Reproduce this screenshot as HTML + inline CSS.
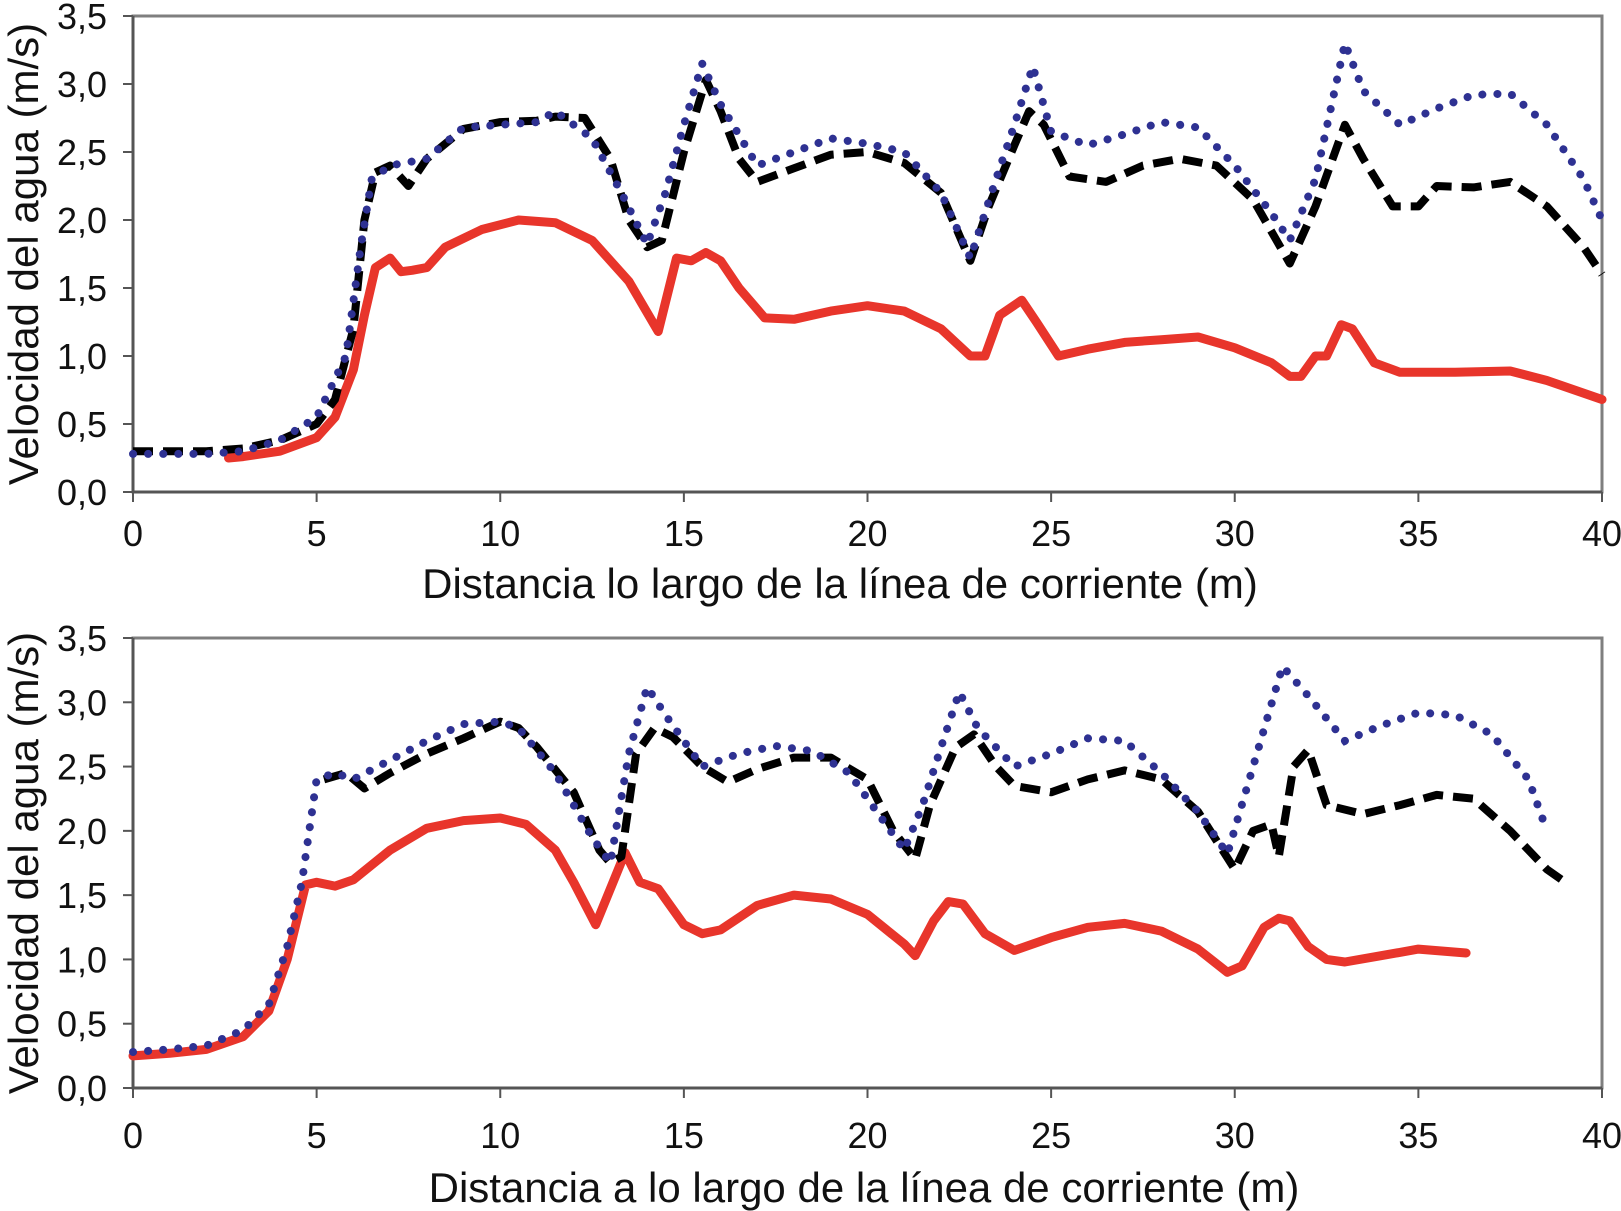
<!DOCTYPE html>
<html><head><meta charset="utf-8"><style>
html,body{margin:0;padding:0;background:#fff;}
svg{display:block;font-family:"Liberation Sans",Arial,sans-serif;}
</style></head><body>
<svg id="chart" width="1621" height="1211" viewBox="0 0 1621 1211"></svg>
<script>
const xTicks=[0,5,10,15,20,25,30,35,40];
const yTicks=[0,0.5,1,1.5,2,2.5,3,3.5];
const yTickLabels=["0,0","0,5","1,0","1,5","2,0","2,5","3,0","3,5"];
const xTitles=["Distancia lo largo de la línea de corriente (m)","Distancia a lo largo de la línea de corriente (m)"];
const yTitle="Velocidad del agua (m/s)";
// Top chart
const topRedX=[2.6,3,4,5,5.5,6,6.3,6.6,7,7.3,7.6,8,8.5,9.5,10.5,11.5,12.5,13.5,14.3,14.8,15.2,15.6,16,16.5,17.2,18,19,20,21,22,22.8,23.2,23.6,24.2,24.6,25.2,26,27,28,29,30,31,31.5,31.8,32.2,32.5,32.9,33.2,33.8,34.5,36,37.5,38.5,40];
const topRedY=[0.25,0.26,0.3,0.4,0.55,0.9,1.3,1.65,1.72,1.62,1.63,1.65,1.8,1.93,2.0,1.98,1.85,1.55,1.18,1.72,1.7,1.76,1.7,1.5,1.28,1.27,1.33,1.37,1.33,1.2,1.0,1.0,1.3,1.41,1.25,1.0,1.05,1.1,1.12,1.14,1.06,0.95,0.85,0.85,1.0,1.0,1.23,1.2,0.95,0.88,0.88,0.89,0.82,0.68];
const topBlackX=[0,2,3,4,5,5.5,6,6.3,6.6,7,7.5,8,9,10,11,11.5,12.3,13,13.5,14,14.4,15,15.6,16,16.5,17,18,19,20,21,22,22.8,23.3,24,24.4,24.8,25.5,26.5,27.5,28.5,29.5,30.5,31.5,32.2,33,33.5,34.3,35,35.5,36.5,37.5,38.5,39.5,40];
const topBlackY=[0.3,0.3,0.32,0.38,0.5,0.68,1.2,2.0,2.35,2.4,2.25,2.45,2.67,2.72,2.73,2.76,2.75,2.45,2.0,1.8,1.85,2.5,3.03,2.8,2.45,2.28,2.38,2.48,2.5,2.42,2.2,1.7,2.1,2.55,2.8,2.7,2.32,2.28,2.4,2.45,2.4,2.15,1.68,2.1,2.7,2.45,2.1,2.1,2.25,2.24,2.28,2.1,1.8,1.6];
const topBlueX=[0,2,3,4,5,5.8,6.2,6.5,7,8,9,10,11,11.5,12.5,13.3,14,14.5,15,15.5,16,17,18,19,20,21,22,22.8,23.5,24,24.5,25,26,27,28,29,30,31,31.5,32.2,33,33.5,34.5,35.5,36.5,37.5,38.5,39.5,40];
const topBlueY=[0.28,0.28,0.3,0.38,0.55,1.0,1.8,2.3,2.4,2.45,2.68,2.7,2.72,2.8,2.6,2.2,1.82,2.2,2.7,3.15,2.85,2.4,2.5,2.6,2.56,2.5,2.2,1.72,2.3,2.7,3.13,2.65,2.55,2.63,2.72,2.68,2.4,2.05,1.85,2.3,3.3,2.95,2.7,2.82,2.92,2.93,2.7,2.3,2.0];
// Bottom chart
const botRedX=[0,1,2,3,3.7,4.2,4.7,5,5.5,6,7,8,9,10,10.7,11.5,12,12.6,13,13.4,13.8,14.3,15,15.5,16,17,18,19,20,21,21.3,21.8,22.2,22.6,23.2,24,25,26,27,28,29,29.8,30.2,30.8,31.2,31.5,32,32.5,33,34,35,36.3];
const botRedY=[0.25,0.27,0.3,0.4,0.6,1.0,1.58,1.6,1.57,1.62,1.85,2.02,2.08,2.1,2.05,1.85,1.6,1.27,1.55,1.83,1.6,1.55,1.27,1.2,1.23,1.42,1.5,1.47,1.35,1.12,1.03,1.3,1.45,1.43,1.2,1.07,1.17,1.25,1.28,1.22,1.08,0.9,0.95,1.25,1.32,1.3,1.1,1.0,0.98,1.03,1.08,1.05];
const botBlackX=[5.2,5.8,6.3,7,8,9,10,10.5,11,12,12.7,13,13.3,13.7,14.2,14.7,15.5,16.2,17,18,19,20,20.7,21.3,21.7,22.4,22.9,23.5,24,25,26,27,28,29,30,30.5,31,31.2,31.6,32,32.5,33.5,34.5,35.5,36.5,37.5,38.5,39];
const botBlackY=[2.4,2.45,2.33,2.45,2.6,2.72,2.85,2.8,2.65,2.3,1.85,1.75,1.8,2.6,2.8,2.73,2.5,2.38,2.48,2.57,2.57,2.4,2.0,1.78,2.2,2.65,2.75,2.5,2.35,2.3,2.4,2.47,2.4,2.15,1.7,2.0,2.05,1.8,2.5,2.63,2.2,2.13,2.2,2.28,2.25,2.0,1.7,1.6];
const botBlueX=[0,1,2,3,3.7,4.2,4.6,5,5.5,6,7,8,9,10,10.5,11.5,12.5,13,13.5,14,14.5,15.5,16.5,17.5,18.5,19.5,20.5,21,21.5,22,22.5,23,24,25,26,27,28,29,29.8,30.5,31.3,32,33,34,35,36,37,38,38.5];
const botBlueY=[0.28,0.3,0.33,0.45,0.65,1.1,1.6,2.4,2.45,2.4,2.55,2.7,2.83,2.85,2.8,2.45,1.95,1.75,2.6,3.12,2.9,2.5,2.6,2.66,2.62,2.45,2.05,1.85,2.2,2.65,3.08,2.8,2.5,2.6,2.72,2.7,2.45,2.15,1.82,2.5,3.28,3.05,2.7,2.82,2.92,2.9,2.75,2.4,2.0];

const NS="http://www.w3.org/2000/svg";
const svg=document.getElementById('chart');
function mk(tag,attrs,parent){const e=document.createElementNS(NS,tag);for(const k in attrs)e.setAttribute(k,attrs[k]);(parent||svg).appendChild(e);return e;}
const panels=[
 {top:16,bot:492,tl:546,xt:598,tx:840,ser:[[topRedX,topRedY],[topBlackX,topBlackY],[topBlueX,topBlueY]],name:'top'},
 {top:638,bot:1088,tl:1148,xt:1202,tx:864,ser:[[botRedX,botRedY],[botBlackX,botBlackY],[botBlueX,botBlueY]],name:'bottom'}
];
const L=133,R=1602;
panels.forEach((p,pi)=>{
 const g=mk('g',{});
 
 
 const sx=v=>L+(R-L)*v/40, sy=v=>p.bot-(p.bot-p.top)*v/3.5;
 const frame=mk('rect',{x:L,y:p.top,width:R-L,height:p.bot-p.top,fill:'none',stroke:'#7f7f7f','stroke-width':3},g);
 
 
 mk('line',{x1:L,y1:p.top,x2:L,y2:p.bot,stroke:'#555','stroke-width':3},g);
 mk('line',{x1:L,y1:p.bot,x2:R,y2:p.bot,stroke:'#555','stroke-width':3},g);
 yTicks.forEach((v,i)=>{
  mk('line',{x1:L-10,y1:sy(v),x2:L,y2:sy(v),stroke:'#555','stroke-width':2},g);
  const t=mk('text',{x:L-26,y:sy(v)+13,'text-anchor':'end','font-size':36,fill:'#111'},g);
  t.textContent=yTickLabels[i];
  
  
 });
 xTicks.forEach(v=>{
  mk('line',{x1:sx(v),y1:p.bot,x2:sx(v),y2:p.bot+10,stroke:'#555','stroke-width':2},g);
  const t=mk('text',{x:sx(v),y:p.tl,'text-anchor':'middle','font-size':36,fill:'#111'},g);
  t.textContent=v;
  
  
 });
 const xt=mk('text',{x:p.tx,y:p.xt,'text-anchor':'middle','font-size':42,fill:'#111'},g);
 xt.textContent=xTitles[pi];
 
 
 const cy=(p.top+p.bot)/2;
 const yt=mk('text',{x:0,y:0,'text-anchor':'middle','font-size':42,fill:'#111',transform:`translate(38,${cy}) rotate(-90)`},g);
 yt.textContent=yTitle;
 
 
 const styles=[
  {stroke:'#e8352b','stroke-width':9,fill:'none','stroke-linejoin':'round','stroke-linecap':'round'},
  {stroke:'#000','stroke-width':8,fill:'none','stroke-dasharray':'20 10','stroke-linejoin':'round'},
  {stroke:'#2e3192','stroke-width':8,fill:'none','stroke-dasharray':'0.1 15','stroke-linecap':'round'}
 ];
 const names=['series-red-solid','series-black-dashed','series-blue-dotted'];
 [0,1,2].forEach(si=>{
  const [xs,ys]=p.ser[si];
  const d=xs.map((x,i)=>(i?'L':'M')+sx(x).toFixed(1)+','+sy(ys[i]).toFixed(1)).join(' ');
  const path=mk('path',Object.assign({d:d},styles[si]),g);
  
  
 });
});
</script>
</body></html>
